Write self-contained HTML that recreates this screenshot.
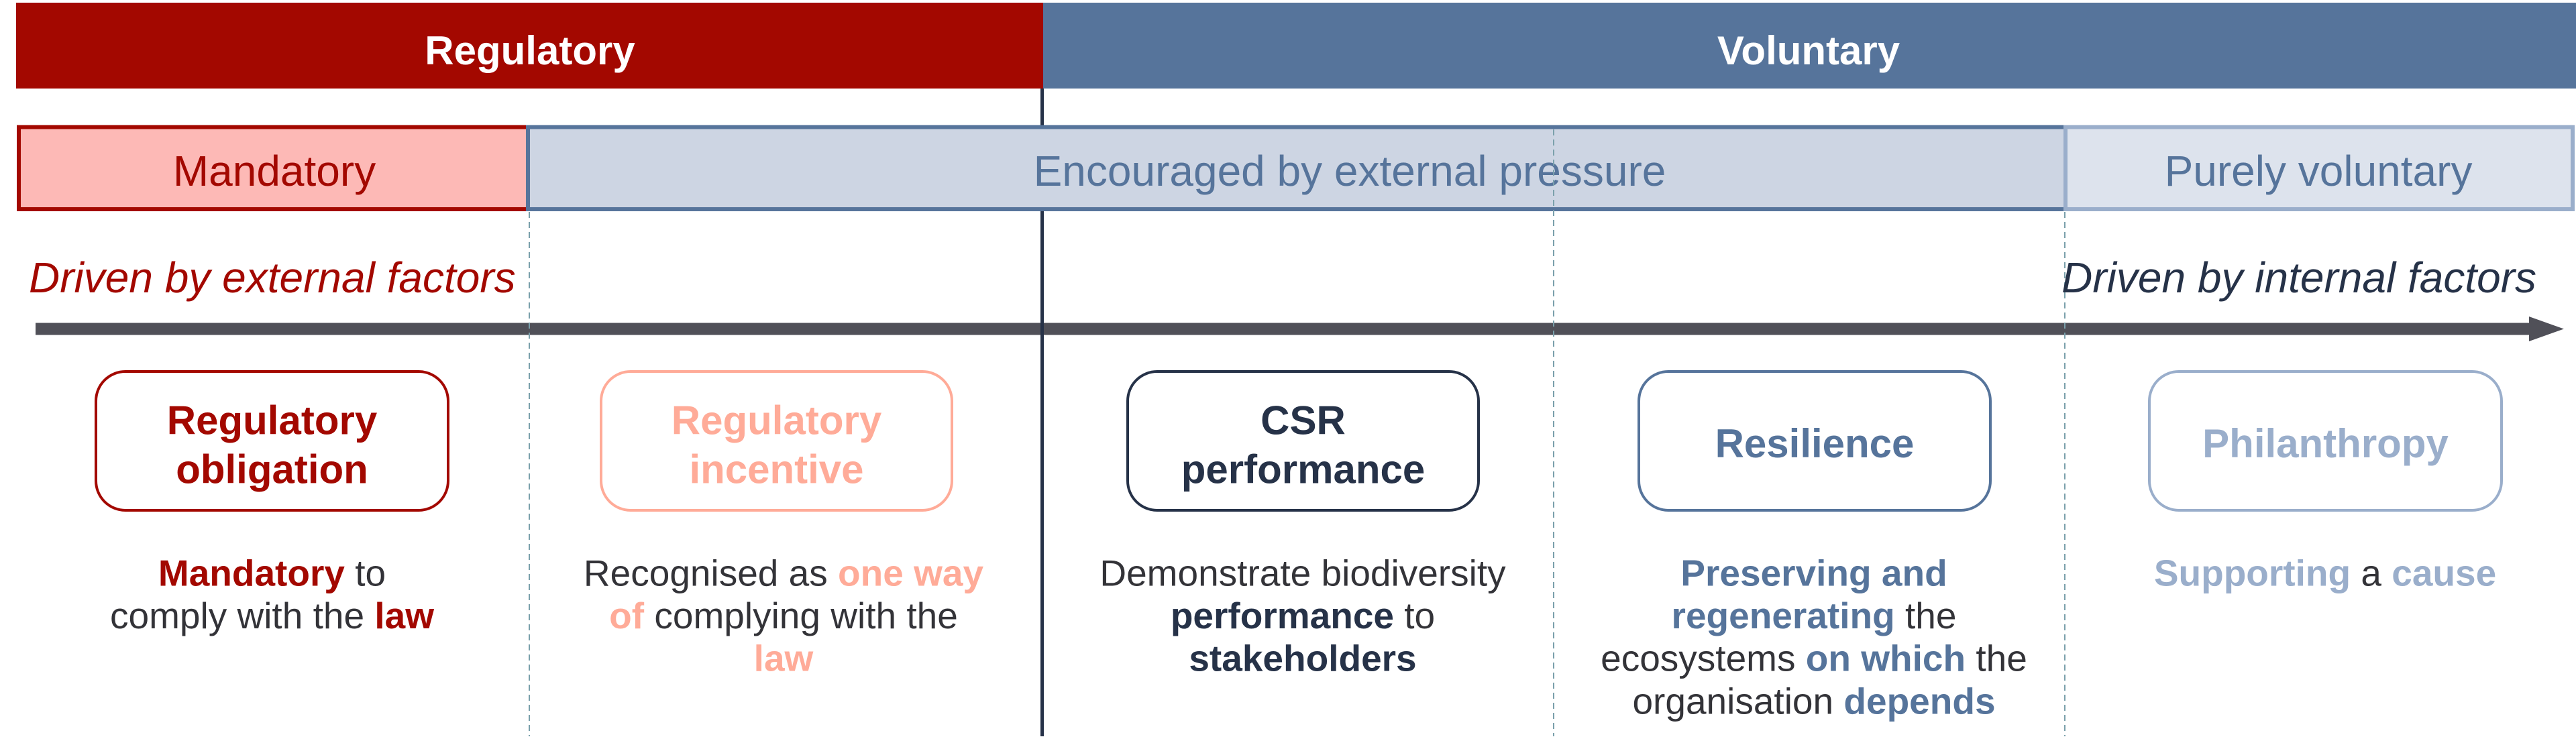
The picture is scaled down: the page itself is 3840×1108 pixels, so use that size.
<!DOCTYPE html>
<html>
<head>
<meta charset="utf-8">
<style>
  html, body { margin: 0; padding: 0; background: #ffffff; }
  body { width: 3840px; height: 1108px; overflow: hidden; }
  svg { display: block; }
  text { font-family: "Liberation Sans", Arial, sans-serif; }
  .b { font-weight: 700; }
</style>
</head>
<body>
<svg width="3840" height="1108" viewBox="0 0 3840 1108" xmlns="http://www.w3.org/2000/svg">
  <rect x="0" y="0" width="3840" height="1108" fill="#ffffff"/>

  <!-- Top banners -->
  <rect x="24" y="4" width="1531" height="128" fill="#a30800"/>
  <rect x="1555" y="4" width="2285" height="128" fill="#56749b"/>
  <text x="790" y="96" font-size="60" class="b" fill="#ffffff" text-anchor="middle">Regulatory</text>
  <text x="2696" y="96" font-size="60" class="b" fill="#ffffff" text-anchor="middle">Voluntary</text>

  <!-- Arrow -->
  <rect x="53" y="481.5" width="3718" height="18" fill="#505058"/>
  <polygon points="3770,472 3822,490.5 3770,509" fill="#505058"/>

  <!-- Vertical separator -->
  <rect x="1551" y="132" width="5" height="966" fill="#263248"/>

  <!-- Second row bands -->
  <rect x="28" y="189.5" width="760" height="122.5" fill="#fdb9b6" stroke="#a30800" stroke-width="6"/>
  <rect x="787" y="189.5" width="2292" height="122.5" fill="#cdd5e3" stroke="#56749b" stroke-width="6"/>
  <rect x="3079" y="189.5" width="756" height="122.5" fill="#dde3ed" stroke="#9aaecb" stroke-width="6"/>
  <text x="409" y="277" font-size="64" fill="#a30800" text-anchor="middle">Mandatory</text>
  <text x="2012" y="277" font-size="64" fill="#56749b" text-anchor="middle">Encouraged by external pressure</text>
  <text x="3456" y="277" font-size="64" fill="#56749b" text-anchor="middle">Purely voluntary</text>

  <!-- Dashed separators -->
  <line x1="789" y1="316" x2="789" y2="1098" stroke="#7aa0ab" stroke-width="2" stroke-dasharray="9 6"/>
  <line x1="2316" y1="193" x2="2316" y2="1098" stroke="#7aa0ab" stroke-width="2" stroke-dasharray="9 6"/>
  <line x1="3078" y1="316" x2="3078" y2="1098" stroke="#7aa0ab" stroke-width="2" stroke-dasharray="9 6"/>

  <!-- Driven labels -->
  <text x="43" y="436" font-size="64" font-style="italic" fill="#a30800">Driven by external factors</text>
  <text x="3781" y="436" font-size="64" font-style="italic" fill="#263248" text-anchor="end">Driven by internal factors</text>

  <!-- Boxes -->
  <rect x="143" y="554" width="525" height="207" rx="44" ry="44" fill="#ffffff" stroke="#a30800" stroke-width="4"/>
  <rect x="896" y="554" width="523" height="207" rx="44" ry="44" fill="#ffffff" stroke="#ffab98" stroke-width="4"/>
  <rect x="1681" y="554" width="523" height="207" rx="44" ry="44" fill="#ffffff" stroke="#263248" stroke-width="4"/>
  <rect x="2443" y="554" width="524" height="207" rx="44" ry="44" fill="#ffffff" stroke="#56749b" stroke-width="4"/>
  <rect x="3204" y="554" width="525" height="207" rx="44" ry="44" fill="#ffffff" stroke="#9aaecb" stroke-width="4"/>

  <!-- Box titles -->
  <text x="405.5" y="647.5" font-size="60" class="b" fill="#a30800" text-anchor="middle">Regulatory</text>
  <text x="405.5" y="720.5" font-size="60" class="b" fill="#a30800" text-anchor="middle">obligation</text>

  <text x="1157.5" y="647.5" font-size="60" class="b" fill="#ffab98" text-anchor="middle">Regulatory</text>
  <text x="1157.5" y="720.5" font-size="60" class="b" fill="#ffab98" text-anchor="middle">incentive</text>

  <text x="1942.5" y="647.5" font-size="60" class="b" fill="#263248" text-anchor="middle">CSR</text>
  <text x="1942.5" y="720.5" font-size="60" class="b" fill="#263248" text-anchor="middle">performance</text>

  <text x="2705" y="682" font-size="60" class="b" fill="#56749b" text-anchor="middle">Resilience</text>

  <text x="3466.5" y="682" font-size="60" class="b" fill="#9aaecb" text-anchor="middle">Philanthropy</text>

  <!-- Descriptions -->
  <g font-size="55" fill="#333338" text-anchor="middle">
    <text x="405.5" y="873.5"><tspan class="b" fill="#a30800">Mandatory</tspan> to</text>
    <text x="405.5" y="937">comply with the <tspan class="b" fill="#a30800">law</tspan></text>

    <text x="1168" y="873.5">Recognised as <tspan class="b" fill="#ffab98">one way</tspan></text>
    <text x="1168" y="937"><tspan class="b" fill="#ffab98">of</tspan> complying with the</text>
    <text x="1168" y="1000.5"><tspan class="b" fill="#ffab98">law</tspan></text>

    <text x="1942" y="873.5">Demonstrate biodiversity</text>
    <text x="1942" y="937"><tspan class="b" fill="#263248">performance</tspan> to</text>
    <text x="1942" y="1000.5"><tspan class="b" fill="#263248">stakeholders</tspan></text>

    <text x="2704" y="873.5"><tspan class="b" fill="#56749b">Preserving and</tspan></text>
    <text x="2704" y="937"><tspan class="b" fill="#56749b">regenerating</tspan> the</text>
    <text x="2704" y="1000.5">ecosystems <tspan class="b" fill="#56749b">on which</tspan> the</text>
    <text x="2704" y="1064.5">organisation <tspan class="b" fill="#56749b">depends</tspan></text>

    <text x="3466" y="873.5"><tspan class="b" fill="#9aaecb">Supporting</tspan> a <tspan class="b" fill="#9aaecb">cause</tspan></text>
  </g>
</svg>
</body>
</html>
